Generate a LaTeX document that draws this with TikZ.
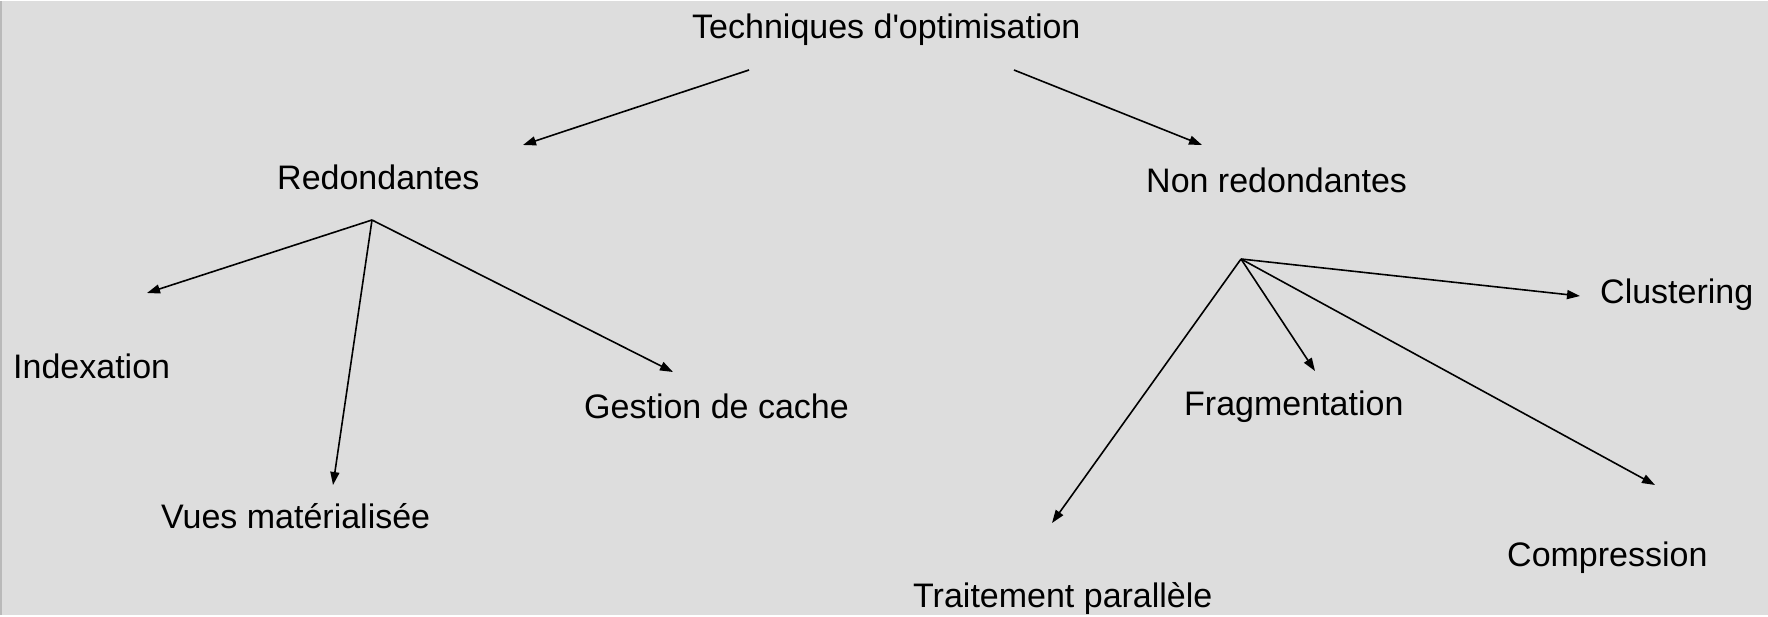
\documentclass[tikz,border=0pt]{standalone}
\usepackage{fontspec}
% a family without TeX ligature mapping keeps the straight apostrophe
\newfontfamily\labelfont{Liberation Sans}
\usetikzlibrary{arrows.meta}
\definecolor{canvas}{RGB}{221,221,221}
\definecolor{rim}{RGB}{185,185,185}
\begin{document}
\begin{tikzpicture}[x=1pt,y=-1pt,
  term/.style={anchor=base west, inner sep=0pt, font=\labelfont\fontsize{34}{40}\selectfont},
  link/.style={line width=1.6pt, -{Triangle[length=13pt,width=9pt]}}]
% canvas and left rim
\fill[canvas] (0,0) rectangle (1768,614);
\draw[rim, line width=2pt] (1,0) -- (1,614);
\useasboundingbox (0,0) rectangle (1768,614);

% labels
\node[term] (root)  at (692,37)  {Techniques d'optimisation};
\node[term] (red)   at (277,188) {Redondantes};
\node[term] (nred)  at (1146,191) {Non redondantes};
\node[term] (idx)   at (13,377)  {Indexation};
\node[term] (vues)  at (161,527) {Vues matérialisée};
\node[term] (cache) at (584,417) {Gestion de cache};
\node[term] (frag)  at (1184,414) {Fragmentation};
\node[term] (clus)  at (1600,302) {Clustering};
\node[term] (comp)  at (1507,565) {Compression};
\node[term] (par)   at (913,606) {Traitement parallèle};

% connector end points
\coordinate (rootL) at (749,69);
\coordinate (rootR) at (1014,69);
\coordinate (redIn) at (523,144);
\coordinate (nredIn) at (1202,144);
\coordinate (redOut) at (372,219);
\coordinate (nredOut) at (1241,258);
\coordinate (idxIn) at (147,292);
\coordinate (vuesIn) at (333,484);
\coordinate (cacheIn) at (673,371);
\coordinate (clusIn) at (1580,295);
\coordinate (fragIn) at (1315,370);
\coordinate (compIn) at (1655,484);
\coordinate (parIn) at (1052,522);

% connectors
\draw[link] (rootL) -- (redIn);
\draw[link] (rootR) -- (nredIn);
\draw[link] (redOut) -- (idxIn);
\draw[link] (redOut) -- (vuesIn);
\draw[link] (redOut) -- (cacheIn);
\draw[link] (nredOut) -- (clusIn);
\draw[link] (nredOut) -- (fragIn);
\draw[link] (nredOut) -- (compIn);
\draw[link] (nredOut) -- (parIn);
\end{tikzpicture}
\end{document}
